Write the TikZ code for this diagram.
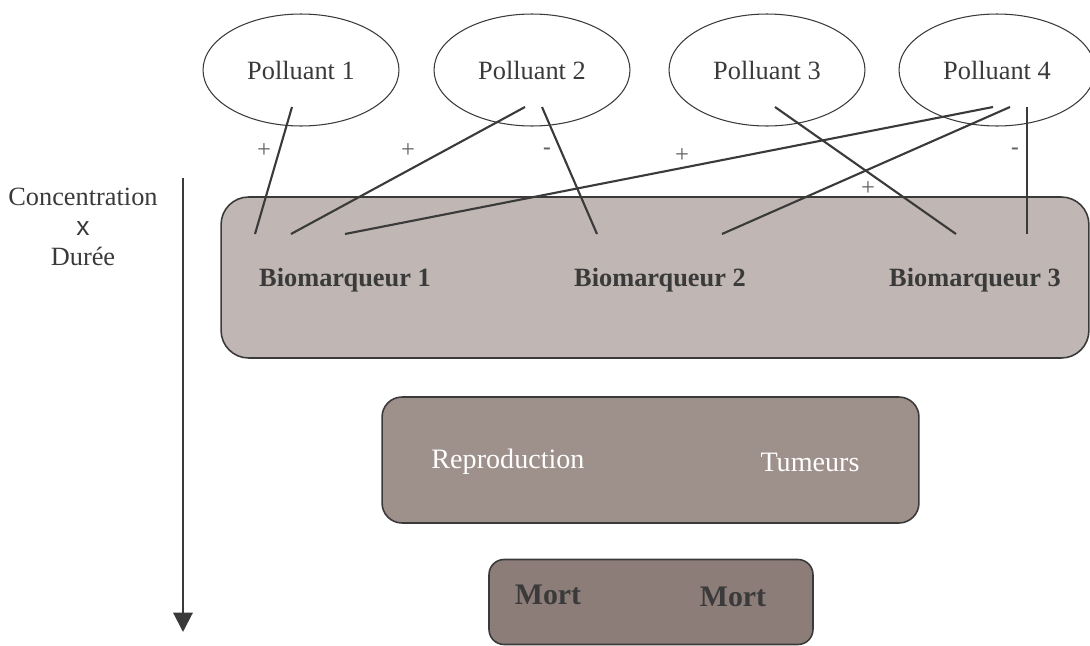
\documentclass[tikz,border=0pt]{standalone}
\usepackage{fontspec}
\setmainfont{Liberation Serif}
\newfontfamily\arialfont{Liberation Sans}
\usetikzlibrary{shapes.geometric,arrows.meta}
\definecolor{linegray}{HTML}{3A3A3A}
\definecolor{biofill}{HTML}{C0B6B3}
\definecolor{effetfill}{HTML}{9E908B}
\definecolor{mortfill}{HTML}{8C7D79}
\begin{document}
\begin{tikzpicture}[x=0.02cm,y=-0.02cm,
 polluant/.style={ellipse,draw=linegray,line width=0.6pt,minimum width=3.92cm,minimum height=2.24cm,font=\fontsize{15}{18}\selectfont,text=linegray},
 lien/.style={linegray,line width=1.2pt},
 signe/.style={text=linegray!80,font=\fontsize{14}{16}\selectfont,inner sep=0pt},
 bio/.style={font=\fontsize{15}{18}\selectfont\bfseries,text=linegray},
 bloc/.style={draw=linegray,line width=0.9pt}]
 \useasboundingbox (0,0) rectangle (1090,646);
 % niveaux
 \node[bloc,fill=biofill,rounded corners=0.55cm,minimum width=17.36cm,minimum height=3.22cm] (niv1) at (655,277.5) {};
 \node[bloc,fill=effetfill,rounded corners=0.4cm,minimum width=10.74cm,minimum height=2.52cm] (niv2) at (650.5,460) {};
 \node[bloc,fill=mortfill,rounded corners=0.3cm,minimum width=6.48cm,minimum height=1.7cm] (niv3) at (651,602) {};
 \node[bio] (b1) at (345,280) {Biomarqueur 1};
 \node[bio] (b2) at (660,280) {Biomarqueur 2};
 \node[bio] (b3) at (975,280) {Biomarqueur 3};
 \node[text=white,font=\fontsize{16}{18}\selectfont] (repro) at (508,462) {Reproduction};
 \node[text=white,font=\fontsize{16}{18}\selectfont] (tum) at (810,462) {Tumeurs};
 \node[font=\fontsize{17}{20}\selectfont\bfseries,text=linegray] (mort1) at (548,595) {Mort};
 \node[font=\fontsize{17}{20}\selectfont\bfseries,text=linegray] (mort2) at (733,597) {Mort};
 % polluants
 \node[polluant] (p1) at (301,70) {Polluant 1};
 \node[polluant] (p2) at (532,70) {Polluant 2};
 \node[polluant] (p3) at (767,70) {Polluant 3};
 \node[polluant] (p4) at (997,70) {Polluant 4};
 % extremites des liens
 \coordinate (s1) at (292,107); \coordinate (e1) at (255,234);
 \coordinate (s2) at (525,107); \coordinate (e2) at (291,234);
 \coordinate (s3) at (542,107); \coordinate (e3) at (597,234);
 \coordinate (s4) at (993,107); \coordinate (e4) at (345,234);
 \coordinate (s5) at (1010,107); \coordinate (e5) at (722,234);
 \coordinate (s6) at (775,107); \coordinate (e6) at (956,234);
 \coordinate (s7) at (1027,107); \coordinate (e7) at (1027,234);
 \draw[lien] (s1)--(e1);
 \draw[lien] (s2)--(e2);
 \draw[lien] (s3)--(e3);
 \draw[lien] (s4)--(e4);
 \draw[lien] (s5)--(e5);
 \draw[lien] (s6)--(e6);
 \draw[lien] (s7)--(e7);
 \node[signe] (sg1) at (264,151) {+};
 \node[signe] (sg2) at (408,151) {+};
 \node[signe,font=\arialfont\fontsize{14}{16}\selectfont] (sg3) at (547,152) {-};
 \node[signe] (sg4) at (682,156) {+};
 \node[signe] (sg5) at (868,189) {+};
 \node[signe,font=\arialfont\fontsize{14}{16}\selectfont] (sg6) at (1015,152) {-};
 % axe
 \node[align=center,text=linegray,font=\fontsize{15}{17}\selectfont] (axe) at (83,227) {Concentration\\{\arialfont x}\\Durée};
 \coordinate (haut) at (183,178);
 \coordinate (bas) at (183,632);
 \draw[lien,-{Triangle[width=11pt,length=11pt]}] (haut)--(bas);
\end{tikzpicture}
\end{document}
